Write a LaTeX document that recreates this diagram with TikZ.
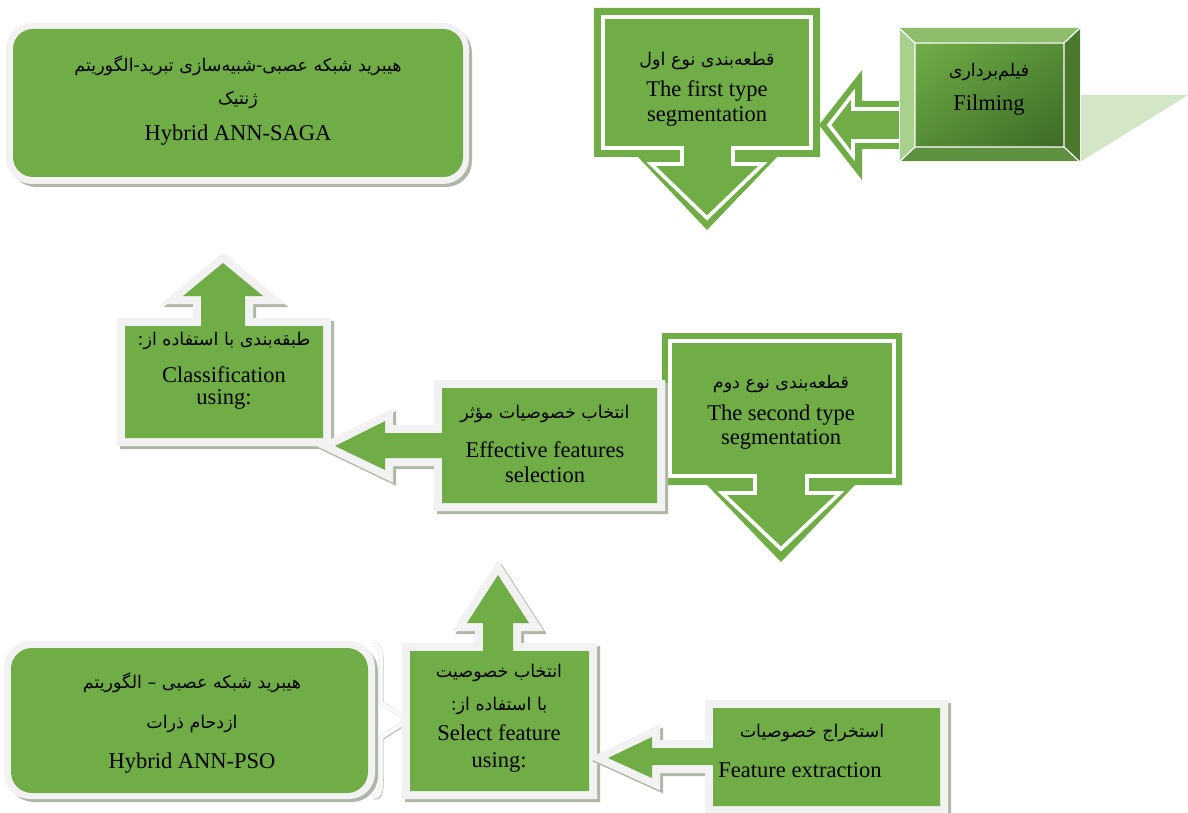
\documentclass[tikz,border=0pt]{standalone}
\usepackage{fontspec}
\usetikzlibrary{shadings}
\setmainfont{Liberation Serif}
\newfontfamily\fa[Script=Arabic]{DejaVu Sans}
\TeXXeTstate=1
\definecolor{gr}{HTML}{70AD47}
\definecolor{fr}{HTML}{F2F2F2}
\definecolor{sh}{HTML}{AFB8A6}
\definecolor{fsh}{HTML}{D3E6C5}
\definecolor{bvT}{HTML}{8DBD6B}
\definecolor{bvL}{HTML}{A9D18E}
\definecolor{bvR}{HTML}{4B7A2F}
\definecolor{bvB}{HTML}{5E9140}
\definecolor{fcA}{HTML}{70AD47}
\definecolor{fcB}{HTML}{3C6A27}
\definecolor{fcM}{HTML}{568D37}
\tikzset{
  wline/.style={draw=white, line width=3.6pt, line join=miter},
  framestroke/.style={draw=fr, fill=fr, line width=16pt, line join=miter},
  shadstroke/.style={draw=sh, fill=sh, line width=16pt, line join=miter},
  en/.style={font=\fontsize{22.5}{27}\selectfont, anchor=base, inner sep=0pt},
  pr/.style={font=\fa\fontsize{17.5}{21}\selectfont, anchor=base, inner sep=0pt},
}
\begin{document}
\begin{tikzpicture}[x=1pt,y=-1pt]
\useasboundingbox (0,0) rectangle (1188,813);
\fill[white] (0,0) rectangle (1188,813);

% ---------- Hybrid ANN-SAGA ----------
\fill[sh, rounded corners=26pt] (10,27) rectangle (472,187);
\fill[fr, rounded corners=26pt] (6,23) rectangle (469,184);
\fill[gr, rounded corners=20pt] (13,29) rectangle (463,177);
\node[pr] (sagaA) at (238,72) {\beginR هیبرید شبکه عصبی-شبیه‌سازی تبرید-الگوریتم\endR};
\node[pr] (sagaB) at (238,105) {\beginR ژنتیک\endR};
\node[en] (sagaC) at (238,141) {Hybrid ANN-SAGA};

% ---------- First type segmentation ----------
\fill[gr] (594,8) -- (820,8) -- (820,157) -- (777,157) -- (707,230) -- (638,157) -- (594,157) -- cycle;
\draw[wline] (603,17) -- (811,17) -- (811,148) -- (733,148) -- (733,164) -- (763,164) -- (707,218) -- (651,164) -- (682,164) -- (682,148) -- (603,148) -- cycle;
\node[pr] (firstA) at (707,66) {\beginR قطعه‌بندی نوع اول\endR};
\node[en] (firstB) at (707,97) {The first type};
\node[en] (firstC) at (707,122) {segmentation};

% ---------- arrow Filming -> first type ----------
\fill[gr] (899,101) -- (862,101) -- (862,70) -- (819,125) -- (862,180) -- (862,149) -- (899,149) -- cycle;
\draw[wline] (899,109) -- (853,109) -- (853,94) -- (829,125) -- (853,156) -- (853,141) -- (899,141);

% ---------- Filming ----------
\fill[fsh] (1080,95) -- (1188,95) -- (1080,162) -- cycle;
\fill[bvT] (899,28) -- (1080,28) -- (1064,43) -- (915,43) -- cycle;
\fill[bvL] (899,28) -- (915,43) -- (915,147) -- (899,162) -- cycle;
\fill[bvR] (1080,28) -- (1080,162) -- (1064,147) -- (1064,43) -- cycle;
\fill[bvB] (899,162) -- (1080,162) -- (1064,147) -- (915,147) -- cycle;
\shade[upper left=fcA, upper right=fcM, lower left=fcM, lower right=fcB] (915,43) rectangle (1064,147);
\draw[white, line width=1.2pt] (915,43) rectangle (1064,147) (899,28) -- (915,43) (1080,28) -- (1064,43) (899,162) -- (915,147) (1080,162) -- (1064,147);
\draw[fr, line width=1pt] (899,28) rectangle (1080,162);
\node[pr] (filmA) at (989,77) {\beginR فیلم‌برداری\endR};
\node[en] (filmB) at (989,111) {Filming};

% ---------- Classification ----------
\path[shadstroke, shift={(3,3)}] (125,326) -- (201,326) -- (201,296) -- (183,296) -- (223,263) -- (263,296) -- (245,296) -- (245,326) -- (323,326) -- (323,438) -- (125,438) -- cycle;
\path[framestroke] (125,326) -- (201,326) -- (201,296) -- (183,296) -- (223,263) -- (263,296) -- (245,296) -- (245,326) -- (323,326) -- (323,438) -- (125,438) -- cycle;
\fill[gr] (125,326) -- (201,326) -- (201,296) -- (183,296) -- (223,263) -- (263,296) -- (245,296) -- (245,326) -- (323,326) -- (323,438) -- (125,438) -- cycle;
\node[pr] (clsA) at (224,345) {\beginR طبقه‌بندی با استفاده از:\endR};
\node[en] (clsB) at (224,382) {Classification};
\node[en] (clsC) at (224,404) {using:};

% ---------- Second type segmentation ----------
\fill[gr] (662,333) -- (902,333) -- (902,485) -- (855,485) -- (781,562) -- (707,485) -- (662,485) -- cycle;
\draw[wline] (670,341) -- (894,341) -- (894,476) -- (807,476) -- (807,493) -- (840,493) -- (781,549) -- (722,493) -- (755,493) -- (755,476) -- (670,476) -- cycle;
\node[pr] (secA) at (781,388) {\beginR قطعه‌بندی نوع دوم\endR};
\node[en] (secB) at (781,420) {The second type};
\node[en] (secC) at (781,444) {segmentation};

% ---------- Effective features selection ----------
\path[shadstroke, shift={(3,3)}] (442,388) -- (657,388) -- (657,503) -- (442,503) -- (442,458) -- (385,458) -- (385,470) -- (335,446) -- (385,421) -- (385,433) -- (442,433) -- cycle;
\path[framestroke] (442,388) -- (657,388) -- (657,503) -- (442,503) -- (442,458) -- (385,458) -- (385,470) -- (335,446) -- (385,421) -- (385,433) -- (442,433) -- cycle;
\fill[gr] (442,388) -- (657,388) -- (657,503) -- (442,503) -- (442,458) -- (385,458) -- (385,470) -- (335,446) -- (385,421) -- (385,433) -- (442,433) -- cycle;
\node[pr] (effA) at (545,418) {\beginR انتخاب  خصوصیات مؤثر\endR};
\node[en] (effB) at (545,457) {Effective features};
\node[en] (effC) at (545,482) {selection};

% ---------- Hybrid ANN-PSO ----------
\fill[sh, rounded corners=26pt] (8,645) rectangle (378,802);
\fill[fr, rounded corners=26pt] (4,641) rectangle (375,799);
\fill[gr, rounded corners=21pt] (11,648) rectangle (368,793);
\draw[sh, line width=1.5pt, shift={(2,2)}] (372,644) .. controls (380,644) and (381,650) .. (381,662) -- (381,703) -- (408,720) -- (381,737) -- (381,778) .. controls (381,790) and (380,797) .. (372,797);
\draw[fr, line width=5pt, line join=miter] (372,644) .. controls (380,644) and (381,650) .. (381,662) -- (381,703) -- (408,720) -- (381,737) -- (381,778) .. controls (381,790) and (380,797) .. (372,797);
\draw[white, line width=1.5pt, line join=miter] (372,644) .. controls (380,644) and (381,650) .. (381,662) -- (381,703) -- (408,720) -- (381,737) -- (381,778) .. controls (381,790) and (380,797) .. (372,797);
\node[pr] (psoA) at (192,688) {\beginR هیبرید شبکه عصبی – الگوریتم\endR};
\node[pr] (psoB) at (192,728) {\beginR ازدحام ذرات\endR};
\node[en] (psoC) at (192,768) {Hybrid ANN-PSO};

% ---------- Select feature ----------
\path[shadstroke, shift={(3,3)}] (410,651) -- (483,651) -- (483,623) -- (467,623) -- (498,575) -- (529,623) -- (513,623) -- (513,651) -- (589,651) -- (589,791) -- (410,791) -- cycle;
\path[framestroke] (410,651) -- (483,651) -- (483,623) -- (467,623) -- (498,575) -- (529,623) -- (513,623) -- (513,651) -- (589,651) -- (589,791) -- (410,791) -- cycle;
\fill[gr] (410,651) -- (483,651) -- (483,623) -- (467,623) -- (498,575) -- (529,623) -- (513,623) -- (513,651) -- (589,651) -- (589,791) -- (410,791) -- cycle;
\node[pr] (selA) at (499,677) {\beginR انتخاب خصوصیت\endR};
\node[pr] (selB) at (499,710) {\beginR با استفاده از:\endR};
\node[en] (selC) at (499,740) {Select feature};
\node[en] (selD) at (499,767) {using:};

% ---------- Feature extraction ----------
\path[shadstroke, shift={(3,3)}] (713,708) -- (940,708) -- (940,806) -- (713,806) -- (713,765) -- (652,765) -- (652,778) -- (608,758) -- (652,737) -- (652,748) -- (713,748) -- cycle;
\path[framestroke] (713,708) -- (940,708) -- (940,806) -- (713,806) -- (713,765) -- (652,765) -- (652,778) -- (608,758) -- (652,737) -- (652,748) -- (713,748) -- cycle;
\fill[gr] (713,708) -- (940,708) -- (940,806) -- (713,806) -- (713,765) -- (652,765) -- (652,778) -- (608,758) -- (652,737) -- (652,748) -- (713,748) -- cycle;
\node[pr] (fexA) at (812,737) {\beginR استخراج خصوصیات\endR};
\node[en] (fexB) at (800,777) {Feature extraction};
\end{tikzpicture}
\end{document}
